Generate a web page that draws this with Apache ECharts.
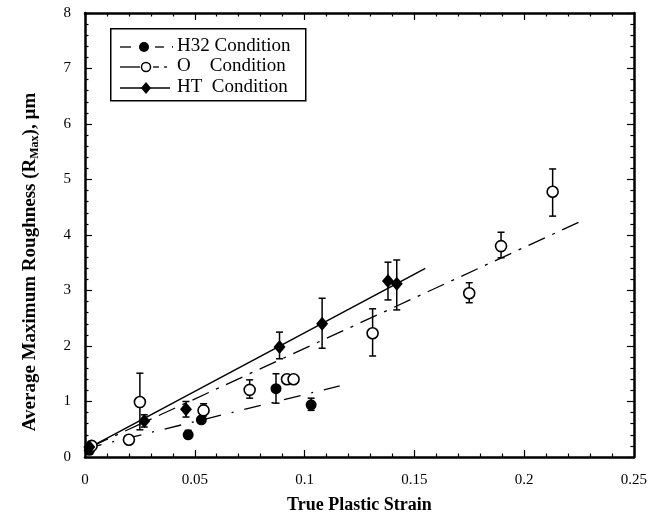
<!DOCTYPE html>
<html><head><meta charset="utf-8">
<script src="https://cdn.jsdelivr.net/npm/echarts@6/dist/echarts.min.js"></script>
<style>html,body{margin:0;padding:0;background:#fff}#c{width:650px;height:525px}</style>
</head><body><div id="c"></div>
<script>
// H32 condition: [strain, roughness, errLow, errHigh]
var h32 = [[0.002,0.12,null,null],[0.047,0.40,0.34,0.48],[0.053,0.67,null,null],[0.087,1.23,0.97,1.50],[0.103,0.94,0.84,1.06]];
// O condition
var oCond = [[0.003,0.20,null,null],[0.020,0.31,null,null],[0.025,0.99,0.49,1.51],[0.054,0.84,0.74,0.96],[0.075,1.21,1.06,1.39],[0.092,1.40,null,null],[0.095,1.40,null,null],[0.131,2.23,1.82,2.67],[0.175,2.95,2.78,3.14],[0.1895,3.80,3.59,4.05],[0.213,4.78,4.34,5.19]];
// HT condition
var ht = [[0.002,0.18,null,null],[0.027,0.65,0.54,0.76],[0.046,0.86,0.72,1.0],[0.0886,1.98,1.77,2.25],[0.108,2.40,1.96,2.86],[0.138,3.17,2.83,3.51],[0.142,3.12,2.65,3.55]];
// fit lines (end points)
var h32Fit = [[0.0,0.15],[0.116,1.28]];
var oFit = [[0.003,0.19],[0.226,4.25]];
var htFit = [[0.002,0.17],[0.155,3.40]];
var xTicks = ['0','0.05','0.1','0.15','0.2','0.25'];
var yTicks = ['0','1','2','3','4','5','6','7','8'];

var chart = echarts.init(document.getElementById('c'));
var FONT = 'Liberation Serif';
function errSeries(data){
  return {type:'custom', z:3, silent:true,
    data: data.filter(function(d){return d[2]!=null;}).map(function(d){return [d[0],d[2],d[3]];}),
    encode:{x:0,y:[1,2]},
    renderItem:function(params,api){
      var lo=api.coord([api.value(0),api.value(1)]);
      var hi=api.coord([api.value(0),api.value(2)]);
      var w=3.5;
      var st={stroke:'#000',lineWidth:1.5};
      return {type:'group',children:[
        {type:'line',shape:{x1:lo[0],y1:lo[1],x2:hi[0],y2:hi[1]},style:st},
        {type:'line',shape:{x1:lo[0]-w,y1:lo[1],x2:lo[0]+w,y2:lo[1]},style:st},
        {type:'line',shape:{x1:hi[0]-w,y1:hi[1],x2:hi[0]+w,y2:hi[1]},style:st}
      ]};
    }};
}
function pts(data){return data.map(function(d){return [d[0],d[1]];});}
var axisCommon = {
  axisLine:{show:true,onZero:false,lineStyle:{color:'#000',width:2.5}},
  axisTick:{show:true,inside:true,length:7,lineStyle:{color:'#000',width:1.2}},
  minorTick:{show:true,splitNumber:5,length:3.5,lineStyle:{color:'#000',width:1.2}},
  splitLine:{show:false}
};
var option = {
  animation:false,
  backgroundColor:'#fff',
  grid:{left:85,right:15,top:13,bottom:68,containLabel:false},
  xAxis:[
    Object.assign({type:'value',min:0,max:0.25,interval:0.05,position:'bottom',
      name:'True Plastic Strain',nameLocation:'middle',nameGap:39,
      nameTextStyle:{fontFamily:FONT,fontWeight:'bold',fontSize:18,color:'#000'},
      axisLabel:{fontFamily:FONT,fontSize:15,color:'#000',margin:16,
        formatter:function(v){var i=Math.round(v/0.05);return xTicks[i];}}},axisCommon),
    Object.assign({type:'value',min:0,max:0.25,interval:0.05,position:'top',axisLabel:{show:false}},axisCommon)
  ],
  yAxis:[
    Object.assign({type:'value',min:0,max:8,interval:1,position:'left',
      name:'{a|Average Maximum Roughness (R}{s|Max}{a|), µm}',nameLocation:'middle',nameGap:44,nameRotate:90,
      nameTextStyle:{padding:[0,54,0,0],rich:{
        a:{fontFamily:FONT,fontWeight:'bold',fontSize:19,color:'#000',lineHeight:22},
        s:{fontFamily:FONT,fontWeight:'bold',fontSize:12,color:'#000',lineHeight:22,verticalAlign:'bottom',padding:[8,0,0,0]}}},
      axisLabel:{fontFamily:FONT,fontSize:15,color:'#000',margin:14,
        formatter:function(v){return yTicks[Math.round(v)];}}},axisCommon),
    Object.assign({type:'value',min:0,max:8,interval:1,position:'right',axisLabel:{show:false}},axisCommon)
  ],
  series:[
    {type:'line',data:h32Fit,symbol:'none',lineStyle:{color:'#000',width:1.3,type:[17,11,2,11]},z:2},
    {type:'line',data:oFit,symbol:'none',lineStyle:{color:'#000',width:1.3,type:[18,8,3,8]},z:2},
    {type:'line',data:htFit,symbol:'none',lineStyle:{color:'#000',width:1.5,type:'solid'},z:2},
    errSeries(h32),errSeries(oCond),errSeries(ht),
    {type:'scatter',data:pts(h32),symbol:'circle',symbolSize:11,itemStyle:{color:'#000',opacity:1},z:5},
    {type:'scatter',data:pts(oCond),symbol:'circle',symbolSize:11,itemStyle:{color:'#fff',borderColor:'#000',borderWidth:1.6,opacity:1},z:5},
    {type:'scatter',data:pts(ht),symbol:'diamond',symbolSize:[12,14],itemStyle:{color:'#000',opacity:1},z:5}
  ],
  graphic:[
    {type:'rect',left:110,top:28,shape:{width:195,height:72},style:{fill:'#fff',stroke:'#000',lineWidth:1.5},z:10},
    // H32 legend row
    {type:'line',shape:{x1:120,y1:47,x2:131,y2:47},style:{stroke:'#000',lineWidth:1.3},z:11},
    {type:'line',shape:{x1:155,y1:47,x2:164,y2:47},style:{stroke:'#000',lineWidth:1.3},z:11},
    {type:'circle',shape:{cx:144,cy:47,r:5},style:{fill:'#000'},z:11},
    {type:'line',shape:{x1:172,y1:47,x2:173,y2:47},style:{stroke:'#000',lineWidth:1.3},z:11},
    {type:'text',left:177,top:37,style:{text:'H32 Condition',font:'19px "Liberation Serif"',fill:'#000'},z:11},
    // O legend row
    {type:'line',shape:{x1:120,y1:67,x2:140,y2:67},style:{stroke:'#000',lineWidth:1.3},z:11},
    {type:'line',shape:{x1:153,y1:67,x2:159,y2:67},style:{stroke:'#000',lineWidth:1.3},z:11},
    {type:'line',shape:{x1:164,y1:67,x2:167,y2:67},style:{stroke:'#000',lineWidth:1.3},z:11},
    {type:'circle',shape:{cx:146,cy:67,r:4.5},style:{fill:'#fff',stroke:'#000',lineWidth:1.5},z:12},
    {type:'text',left:177,top:57,style:{text:'O    Condition',font:'19px "Liberation Serif"',fill:'#000'},z:11},
    // HT legend row
    {type:'line',shape:{x1:120,y1:88,x2:170,y2:88},style:{stroke:'#000',lineWidth:1.5},z:11},
    {type:'polygon',shape:{points:[[146,82],[151,88],[146,94],[141,88]]},style:{fill:'#000'},z:12},
    {type:'text',left:177,top:78,style:{text:'HT  Condition',font:'19px "Liberation Serif"',fill:'#000'},z:11}
  ]
};
chart.setOption(option);
</script></body></html>
